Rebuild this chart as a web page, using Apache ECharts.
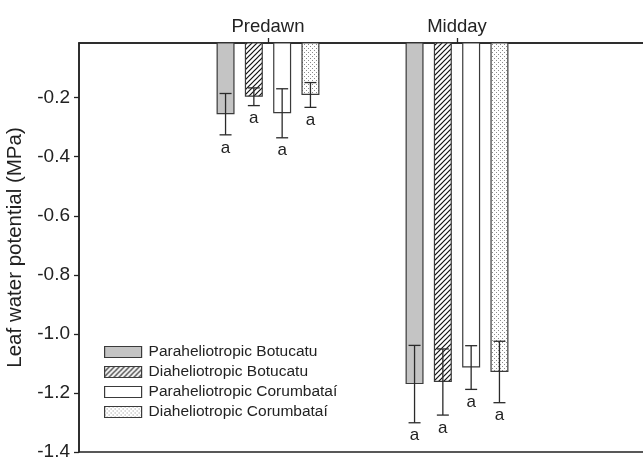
<!DOCTYPE html>
<html>
<head>
<meta charset="utf-8">
<script src="https://cdn.jsdelivr.net/npm/echarts@6/dist/echarts.min.js"></script>
<style>
  html, body { margin: 0; padding: 0; background: #fff; }
  #chart { width: 643px; height: 457px; }
</style>
</head>
<body>
<div id="chart"></div>
<script>
// data
const categories = ['Predawn', 'Midday'];
const seriesNames = [
  'Paraheliotropic Botucatu',
  'Diaheliotropic Botucatu',
  'Paraheliotropic Corumbataí',
  'Diaheliotropic Corumbataí'
];
const paraBotucatu = [-0.256, -1.170];
const diaBotucatu = [-0.197, -1.163];
const paraCorumbatai = [-0.253, -1.114];
const diaCorumbatai = [-0.191, -1.129];
const errParaBotucatu = [0.070, 0.131];
const errDiaBotucatu = [0.030, 0.112];
const errParaCorumbatai = [0.083, 0.074];
const errDiaCorumbatai = [0.042, 0.104];
const letters = [['a', 'a'], ['a', 'a'], ['a', 'a'], ['a', 'a']];
const yTicks = [-1.4, -1.2, -1.0, -0.8, -0.6, -0.4, -0.2];

const means = [paraBotucatu, diaBotucatu, paraCorumbatai, diaCorumbatai];
const errs = [errParaBotucatu, errDiaBotucatu, errParaCorumbatai, errDiaCorumbatai];

// empty slots at both ends so the groups sit at 1/3 and 2/3 of the width
const axisCats = [''].concat(categories, ['']);

function hatchPattern() {
  const c = document.createElement('canvas');
  c.width = 5; c.height = 5;
  const g = c.getContext('2d');
  g.fillStyle = '#fff';
  g.fillRect(0, 0, 5, 5);
  g.strokeStyle = '#111';
  g.lineWidth = 1.2;
  g.beginPath();
  g.moveTo(-1, 6); g.lineTo(6, -1);
  g.moveTo(-1, 1); g.lineTo(1, -1);
  g.moveTo(4, 6); g.lineTo(6, 4);
  g.stroke();
  return c;
}
function dotPattern() {
  const c = document.createElement('canvas');
  c.width = 4; c.height = 4;
  const g = c.getContext('2d');
  g.fillStyle = '#fff';
  g.fillRect(0, 0, 4, 4);
  g.fillStyle = '#8a8a8a';
  g.fillRect(0, 0, 1, 1);
  g.fillRect(2, 2, 1, 1);
  return c;
}

const fills = [
  '#c4c4c4',
  { image: hatchPattern(), repeat: 'repeat' },
  '#ffffff',
  { image: dotPattern(), repeat: 'repeat' }
];

const barWidth = 18;
const barStep = 28.3;

const chart = echarts.init(document.getElementById('chart'));

const barSeries = seriesNames.map((name, s) => ({
  name: name,
  type: 'bar',
  data: ['-'].concat(means[s], ['-']),
  barWidth: barWidth,
  barGap: ((barStep - barWidth) / barWidth * 100) + '%',
  clip: true,
  itemStyle: {
    color: fills[s],
    borderColor: '#3a3a3a',
    borderWidth: 1.2
  },
  emphasis: { disabled: true }
}));

const errData = [];
means.forEach((arr, s) => {
  arr.forEach((m, c) => {
    errData.push([c + 1, m, errs[s][c], s, letters[s][c]]);
  });
});

const errSeries = {
  type: 'custom',
  data: errData,
  z: 5,
  encode: { x: 0, y: 1 },
  renderItem: function (params, api) {
    const ci = api.value(0);
    const m = api.value(1);
    const e = api.value(2);
    const s = api.value(3);
    const x = api.coord([ci, m])[0] + (s - 1.5) * barStep;
    const yTop = api.coord([ci, m + e])[1];
    const yBot = api.coord([ci, m - e])[1];
    const half = 6;
    const st = { stroke: '#2a2a2a', lineWidth: 1.3 };
    return {
      type: 'group',
      children: [
        { type: 'line', shape: { x1: x, y1: yTop, x2: x, y2: yBot }, style: st },
        { type: 'line', shape: { x1: x - half, y1: yTop, x2: x + half, y2: yTop }, style: st },
        { type: 'line', shape: { x1: x - half, y1: yBot, x2: x + half, y2: yBot }, style: st },
        {
          type: 'text',
          x: x, y: yBot + 13,
          style: {
            text: api.value(4),
            fill: '#222',
            font: '17px "Liberation Sans", Arial, sans-serif',
            align: 'center',
            verticalAlign: 'middle'
          }
        }
      ]
    };
  }
};

chart.setOption({
  animation: false,
  textStyle: { fontFamily: '"Liberation Sans", Arial, sans-serif' },
  grid: {
    left: 79, top: 43, width: 567, bottom: 5,
    outerBoundsMode: 'none',
    containLabel: false,
    show: true,
    borderColor: '#222',
    borderWidth: 1.5
  },
  legend: {
    data: seriesNames,
    orient: 'vertical',
    left: 104,
    top: 344,
    padding: 0,
    itemWidth: 37,
    itemHeight: 11,
    itemGap: 4,
    icon: 'rect',
    selectedMode: false,
    itemStyle: { borderColor: '#3a3a3a', borderWidth: 1.2 },
    textStyle: { fontSize: 15.5, color: '#222', padding: [0, 0, 0, 2] }
  },
  xAxis: {
    type: 'category',
    position: 'top',
    data: axisCats,
    boundaryGap: false,
    axisLine: { show: true, lineStyle: { color: '#222', width: 1.5 } },
    axisTick: {
      show: true,
      length: 5,
      interval: (i, v) => v !== '',
      lineStyle: { color: '#222', width: 1.3 }
    },
    axisLabel: { fontSize: 18.5, color: '#222', margin: 7, interval: 0 },
    splitLine: { show: false }
  },
  yAxis: {
    type: 'value',
    min: -1.4,
    max: -0.015,
    name: 'Leaf water potential (MPa)',
    nameLocation: 'middle',
    nameGap: 53,
    nameTextStyle: { fontSize: 20.5, color: '#222' },
    axisLine: { show: true, lineStyle: { color: '#222', width: 1.5 } },
    axisTick: {
      show: true, length: 5, customValues: yTicks,
      lineStyle: { color: '#222', width: 1.3 }
    },
    axisLabel: {
      fontSize: 19, color: '#222', margin: 9,
      customValues: yTicks,
      formatter: v => v.toFixed(1)
    },
    splitLine: { show: false }
  },
  series: barSeries.concat([errSeries])
});
</script>
</body>
</html>
